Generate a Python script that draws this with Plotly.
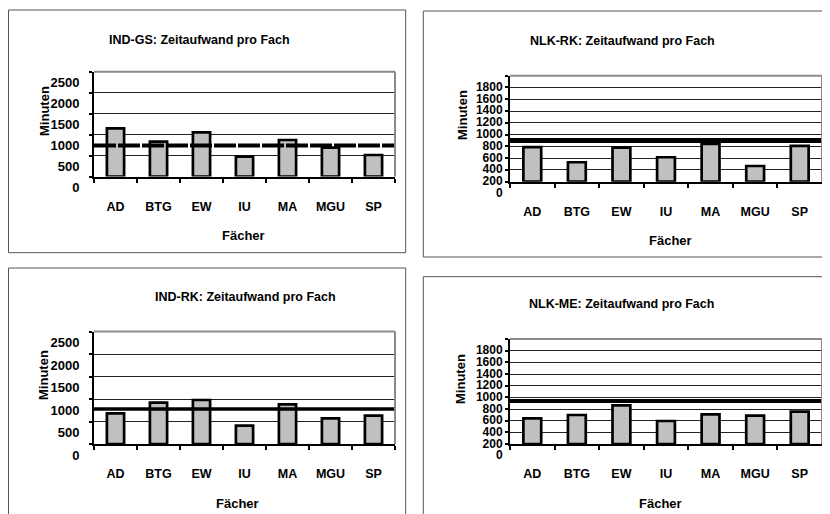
import plotly.graph_objects as go

# ---- data ----
categories = ["AD", "BTG", "EW", "IU", "MA", "MGU", "SP"]
chart_titles = ["IND-GS: Zeitaufwand pro Fach", "NLK-RK: Zeitaufwand pro Fach",
                "IND-RK: Zeitaufwand pro Fach", "NLK-ME: Zeitaufwand pro Fach"]
ind_gs = [1150, 830, 1054, 472, 871, 687, 513]
nlk_rk = [586, 330, 579, 415, 642, 267, 608]
ind_rk = [682, 918, 978, 407, 882, 571, 629]
nlk_me = [440, 497, 663, 394, 509, 485, 554]
mean_lines = [740, 698, 778, 737]
y_max = [2500, 1800, 2500, 1800]
y_step = [500, 200, 500, 200]
x_title = "Fächer"
y_title = "Minuten"

series = [ind_gs, nlk_rk, ind_rk, nlk_me]

W, H = 830, 514
OFF = 8  # page body margin compensation
FONT = "Arial, 'Liberation Sans', sans-serif"


def px_x(v):
    return (v - OFF) / W


def px_y(v):
    return 1 - (v - OFF) / H


# layout geometry (pixels in the final page)
plot_px = [  # x0, x1, ytop, ybottom
    (94, 395, 71.7, 176.5),
    (510, 822, 75.7, 181.7),
    (94, 395, 331.5, 444),
    (510, 822, 339, 444),
]
title_px = [(199, 40), (622, 41), (245, 297), (621, 304)]
ytitle_px = [(45, 111), (462, 115), (43, 375), (460, 379)]
xtitle_px = [(243, 235), (670, 241), (237, 503), (660, 503)]
border_px = [(8.5, 405.7, 10, 252.7), (423.3, 850, 11, 257),
             (8.5, 405.7, 268, 540), (423.3, 850, 276.7, 540)]
line_styles = [dict(width=4, dash="22px,2px"), dict(width=5), dict(width=3.5), dict(width=4)]
ystandoff = [7, 0, 7, 0]
ytick_size = [13, 12, 13, 12]

fig = go.Figure()
layout = dict(template="none", width=W, height=H, autosize=False,
              margin=dict(l=0, r=0, t=0, b=0, pad=0, autoexpand=False),
              paper_bgcolor="white", plot_bgcolor="white",
              showlegend=False, font=dict(family=FONT, color="black"))
shapes = []
annotations = []

for i in range(4):
    n = "" if i == 0 else str(i + 1)
    xa, ya = "x" + n, "y" + n
    x0, x1, yt, yb = plot_px[i]
    fig.add_trace(go.Bar(
        x=categories, y=series[i], xaxis=xa, yaxis=ya, width=0.4,
        marker=dict(color="#c0c0c0", line=dict(color="black", width=2.7)),
        hoverinfo="x+y"))
    layout["xaxis" + n] = dict(
        domain=[px_x(x0), px_x(x1)], anchor=ya, type="category", automargin=False,
        showline=True, linecolor="black", linewidth=2,
        ticks="outside", tickson="boundaries", ticklen=4, tickcolor="black", tickwidth=1.5,
        showgrid=False, zeroline=False, ticklabelstandoff=17,
        tickfont=dict(family=FONT, size=12.5, weight="bold", color="black"))
    layout["yaxis" + n] = dict(
        domain=[px_y(yb), px_y(yt)], anchor=xa, automargin=False,
        range=[0, y_max[i]], dtick=y_step[i], tick0=0,
        showline=True, linecolor="black", linewidth=2,
        ticks="outside", ticklen=3, tickcolor="black", tickwidth=1.5,
        showgrid=True, gridcolor="#222222", gridwidth=1.3, zeroline=False,
        ticklabelshift=11, ticklabelstandoff=ystandoff[i],
        tickfont=dict(family=FONT, size=ytick_size[i], weight="bold", color="black"))
    # mean line
    shapes.append(dict(type="line", xref=xa + " domain", yref=ya, x0=0, x1=1,
                       y0=mean_lines[i], y1=mean_lines[i],
                       line=dict(color="black", **line_styles[i]), layer="above"))
    # plot area top/right border (gray)
    shapes.append(dict(type="line", xref=xa + " domain", yref=ya + " domain",
                       x0=0, x1=1, y0=1, y1=1, line=dict(color="#8a8a8a", width=2), layer="above"))
    shapes.append(dict(type="line", xref=xa + " domain", yref=ya + " domain",
                       x0=1, x1=1, y0=0, y1=1, line=dict(color="#8a8a8a", width=2), layer="above"))
    # chart frame
    bx0, bx1, by0, by1 = border_px[i]
    shapes.append(dict(type="rect", xref="paper", yref="paper",
                       x0=px_x(bx0), x1=px_x(bx1), y0=px_y(by1), y1=px_y(by0),
                       line=dict(color="#555555", width=1), fillcolor="rgba(0,0,0,0)"))
    # texts
    tx, ty = title_px[i]
    annotations.append(dict(text=chart_titles[i], xref="paper", yref="paper",
                            x=px_x(tx), y=px_y(ty), xanchor="center", yanchor="middle",
                            showarrow=False, font=dict(family=FONT, size=12.5, weight="bold")))
    ux, uy = ytitle_px[i]
    annotations.append(dict(text=y_title, xref="paper", yref="paper", textangle=-90,
                            x=px_x(ux), y=px_y(uy), xanchor="center", yanchor="middle",
                            showarrow=False, font=dict(family=FONT, size=13, weight="bold")))
    fx, fy = xtitle_px[i]
    annotations.append(dict(text=x_title, xref="paper", yref="paper",
                            x=px_x(fx), y=px_y(fy), xanchor="center", yanchor="middle",
                            showarrow=False, font=dict(family=FONT, size=13, weight="bold")))

layout["shapes"] = shapes
layout["annotations"] = annotations
fig.update_layout(**layout)
fig.write_html("out.html")
